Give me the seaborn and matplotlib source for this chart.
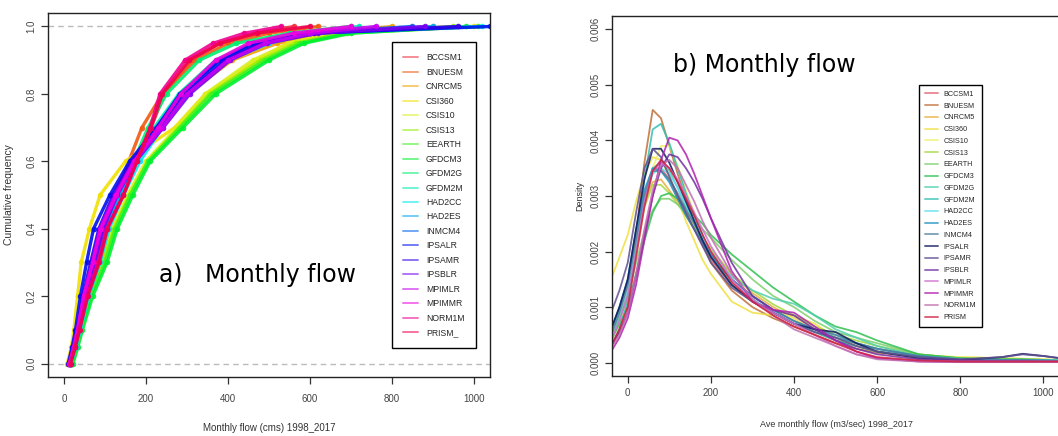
import numpy as np
import pandas as pd
import matplotlib
matplotlib.use("Agg")
import matplotlib.pyplot as plt
from matplotlib.lines import Line2D
import seaborn as sns

# ---------------- data ----------------
models = ["BCCSM1", "BNUESM", "CNRCM5", "CSI360", "CSIS10", "CSIS13", "EEARTH",
          "GFDCM3", "GFDM2G", "GFDM2M", "HAD2CC", "HAD2ES", "INMCM4", "IPSALR",
          "IPSAMR", "IPSBLR", "MPIMLR", "MPIMMR", "NORM1M", "PRISM_"]
legend_b = ["BCCSM1", "BNUESM", "CNRCM5", "CSI360", "CSIS10", "CSIS13", "EEARTH",
            "GFDCM3", "GFDM2G", "GFDM2M", "HAD2CC", "HAD2ES", "INMCM4", "IPSALR",
            "IPSAMR", "IPSBLR", "MPIMLR", "MPIMMR", "NORM1M", "PRISM"]

colors_a = ["#f03040", "#f05a10", "#f0a000", "#f0e000", "#d8f020", "#90f000",
            "#40f020", "#00f030", "#00f070", "#00e8b0", "#00e8f0", "#00a8f0",
            "#0060f0", "#0010f0", "#3000e8", "#7a00f0", "#c800f0", "#f000e0",
            "#f00090", "#f00050"]
colors_b = ["#e06070", "#c0703a", "#e8b040", "#f0e040", "#f0f070", "#a8d840",
            "#80d070", "#30c050", "#50d0b0", "#30c0b0", "#60e0f0", "#2090c0",
            "#5080a0", "#101860", "#605090", "#7030a0", "#d070d0", "#b020b0",
            "#c070b0", "#d02040"]

# cumulative frequency levels and flow quantiles (cms) per model
cum_p = [0, 0.05, 0.1, 0.2, 0.3, 0.4, 0.5, 0.6, 0.7, 0.8, 0.9, 0.95, 0.98, 1.0]
flow_q = {
    "BCCSM1": [15, 27, 37, 55, 80, 100, 135, 172, 212, 245, 310, 380, 470, 560],
    "BNUESM": [18, 28, 38, 55, 78, 100, 128, 158, 190, 240, 320, 400, 500, 620],
    "CNRCM5": [15, 26, 36, 54, 78, 100, 132, 170, 225, 300, 410, 520, 640, 800],
    "CSI360": [8, 18, 24, 33, 42, 62, 88, 150, 270, 345, 470, 545, 640, 1000],
    "CSIS10": [14, 26, 36, 58, 90, 118, 155, 200, 275, 345, 460, 550, 660, 900],
    "CSIS13": [18, 30, 40, 62, 95, 122, 160, 205, 280, 355, 480, 565, 680, 950],
    "EEARTH": [20, 32, 42, 65, 100, 125, 162, 205, 283, 360, 490, 575, 690, 1010],
    "GFDCM3": [22, 34, 45, 70, 105, 130, 168, 210, 290, 370, 500, 585, 700, 980],
    "GFDM2G": [16, 28, 38, 56, 82, 105, 135, 170, 205, 250, 330, 420, 550, 700],
    "GFDM2M": [16, 28, 38, 57, 82, 105, 138, 175, 220, 280, 370, 460, 570, 720],
    "HAD2CC": [17, 29, 40, 60, 88, 110, 145, 185, 240, 300, 400, 500, 600, 1020],
    "HAD2ES": [16, 27, 37, 55, 80, 102, 135, 172, 228, 290, 390, 480, 600, 900],
    "INMCM4": [15, 26, 35, 52, 76, 98, 128, 168, 225, 290, 385, 470, 590, 850],
    "IPSALR": [10, 20, 28, 40, 55, 72, 112, 160, 226, 283, 380, 461, 600, 1040],
    "IPSAMR": [12, 23, 32, 46, 65, 85, 120, 165, 232, 295, 395, 480, 610, 960],
    "IPSBLR": [14, 25, 35, 52, 75, 95, 130, 175, 242, 307, 405, 495, 620, 880],
    "MPIMLR": [13, 24, 33, 48, 70, 88, 125, 170, 240, 300, 400, 490, 600, 760],
    "MPIMMR": [13, 24, 33, 48, 70, 90, 128, 172, 230, 285, 370, 450, 560, 700],
    "NORM1M": [15, 27, 37, 56, 83, 104, 145, 177, 210, 234, 295, 363, 440, 530],
    "PRISM_": [16, 28, 38, 58, 86, 106, 145, 178, 212, 240, 305, 380, 470, 600],
}

# density curves (values in 1e-3 per m3/sec) sampled at these flows
dens_x = [-40, -20, 0, 20, 40, 60, 80, 100, 120, 140, 160, 180, 200, 250, 300,
          350, 400, 450, 500, 550, 600, 700, 800, 900, 950, 1000, 1040]
dens_milli = {
    "BCCSM1": [0.4, 0.8, 1.3, 2.2, 3.0, 3.5, 3.5, 3.3, 3.0, 2.7, 2.4, 2.1, 1.85, 1.4, 1.1, 0.9, 0.7, 0.55, 0.4, 0.3, 0.2, 0.1, 0.06, 0.04, 0.03, 0.03, 0.03],
    "BNUESM": [0.3, 0.6, 1.2, 2.3, 3.6, 4.55, 4.4, 3.9, 3.4, 2.95, 2.55, 2.15, 1.8, 1.3, 1.0, 0.8, 0.65, 0.5, 0.35, 0.25, 0.18, 0.1, 0.05, 0.03, 0.03, 0.02, 0.02],
    "CNRCM5": [0.5, 0.9, 1.4, 2.2, 2.9, 3.25, 3.3, 3.1, 2.9, 2.65, 2.4, 2.2, 2.0, 1.6, 1.25, 1.0, 0.8, 0.6, 0.45, 0.35, 0.25, 0.12, 0.08, 0.06, 0.05, 0.04, 0.04],
    "CSI360": [1.5, 1.9, 2.3, 2.9, 3.4, 3.7, 3.65, 3.35, 2.95, 2.55, 2.2, 1.85, 1.6, 1.1, 0.9, 0.85, 0.85, 0.7, 0.45, 0.3, 0.2, 0.12, 0.1, 0.08, 0.07, 0.06, 0.05],
    "CSIS10": [0.4, 0.7, 1.1, 1.9, 2.8, 3.5, 3.9, 3.9, 3.55, 3.1, 2.7, 2.3, 1.95, 1.4, 1.1, 0.95, 0.8, 0.6, 0.45, 0.35, 0.25, 0.14, 0.1, 0.08, 0.07, 0.06, 0.05],
    "CSIS13": [0.6, 1.0, 1.4, 2.2, 2.8, 3.2, 3.2, 3.05, 2.85, 2.65, 2.45, 2.25, 2.05, 1.6, 1.3, 1.05, 0.85, 0.65, 0.5, 0.4, 0.3, 0.15, 0.08, 0.06, 0.06, 0.05, 0.04],
    "EEARTH": [0.5, 0.8, 1.2, 1.8, 2.35, 2.75, 2.95, 2.95, 2.85, 2.7, 2.55, 2.4, 2.25, 1.85, 1.5, 1.2, 1.0, 0.75, 0.55, 0.45, 0.35, 0.15, 0.08, 0.06, 0.06, 0.05, 0.04],
    "GFDCM3": [0.4, 0.7, 1.0, 1.6, 2.2, 2.7, 3.0, 3.05, 2.95, 2.8, 2.65, 2.5, 2.3, 1.95, 1.65, 1.35, 1.1, 0.85, 0.65, 0.55, 0.4, 0.15, 0.08, 0.06, 0.06, 0.05, 0.04],
    "GFDM2G": [0.4, 0.8, 1.2, 2.0, 2.9, 3.5, 3.6, 3.45, 3.15, 2.8, 2.5, 2.2, 1.95, 1.55, 1.3, 1.15, 1.06, 0.85, 0.6, 0.45, 0.3, 0.12, 0.07, 0.05, 0.05, 0.04, 0.04],
    "GFDM2M": [0.3, 0.6, 1.1, 2.1, 3.3, 4.2, 4.3, 3.95, 3.5, 3.05, 2.65, 2.3, 1.95, 1.4, 1.1, 0.9, 0.7, 0.55, 0.4, 0.3, 0.2, 0.1, 0.05, 0.03, 0.03, 0.02, 0.02],
    "HAD2CC": [0.5, 0.9, 1.3, 2.1, 2.9, 3.4, 3.5, 3.4, 3.15, 2.85, 2.55, 2.25, 2.0, 1.5, 1.15, 0.9, 0.7, 0.6, 0.5, 0.35, 0.25, 0.1, 0.06, 0.05, 0.05, 0.04, 0.04],
    "HAD2ES": [0.6, 1.0, 1.5, 2.4, 3.1, 3.5, 3.45, 3.25, 2.95, 2.65, 2.4, 2.15, 1.9, 1.5, 1.2, 0.95, 0.75, 0.6, 0.45, 0.35, 0.25, 0.12, 0.06, 0.05, 0.05, 0.04, 0.03],
    "INMCM4": [0.5, 0.9, 1.4, 2.2, 3.0, 3.45, 3.45, 3.3, 3.05, 2.75, 2.5, 2.2, 1.95, 1.5, 1.2, 0.95, 0.75, 0.6, 0.5, 0.35, 0.25, 0.12, 0.06, 0.05, 0.05, 0.04, 0.03],
    "IPSALR": [0.6, 1.0, 1.5, 2.4, 3.3, 3.85, 3.85, 3.6, 3.25, 2.9, 2.55, 2.2, 1.9, 1.4, 1.1, 0.9, 0.7, 0.6, 0.55, 0.35, 0.2, 0.08, 0.05, 0.1, 0.16, 0.12, 0.08],
    "IPSAMR": [0.9, 1.3, 1.8, 2.7, 3.5, 3.85, 3.7, 3.35, 3.0, 2.7, 2.4, 2.1, 1.8, 1.35, 1.1, 0.9, 0.7, 0.55, 0.45, 0.3, 0.2, 0.1, 0.06, 0.1, 0.15, 0.12, 0.08],
    "IPSBLR": [0.3, 0.55, 0.9, 1.55, 2.3, 3.0, 3.5, 3.75, 3.7, 3.5, 3.25, 2.95, 2.6, 1.8, 1.2, 0.95, 0.85, 0.6, 0.4, 0.25, 0.15, 0.06, 0.04, 0.03, 0.03, 0.02, 0.02],
    "MPIMLR": [0.4, 0.75, 1.2, 2.0, 2.9, 3.45, 3.6, 3.5, 3.3, 3.0, 2.7, 2.4, 2.1, 1.5, 1.1, 0.9, 0.7, 0.5, 0.3, 0.15, 0.08, 0.03, 0.02, 0.02, 0.02, 0.02, 0.02],
    "MPIMMR": [0.2, 0.45, 0.8, 1.4, 2.2, 3.0, 3.65, 4.05, 4.0, 3.75, 3.4, 3.0, 2.6, 1.65, 1.1, 0.95, 0.9, 0.65, 0.4, 0.2, 0.08, 0.02, 0.01, 0.01, 0.01, 0.01, 0.01],
    "NORM1M": [0.25, 0.5, 0.9, 1.6, 2.4, 3.1, 3.55, 3.65, 3.5, 3.2, 2.9, 2.55, 2.25, 1.6, 1.15, 0.85, 0.6, 0.45, 0.3, 0.15, 0.06, 0.02, 0.01, 0.01, 0.01, 0.01, 0.01],
    "PRISM_": [0.3, 0.6, 1.0, 1.9, 2.8, 3.45, 3.65, 3.5, 3.25, 2.95, 2.65, 2.3, 2.0, 1.45, 1.1, 0.85, 0.65, 0.5, 0.35, 0.2, 0.1, 0.04, 0.02, 0.02, 0.02, 0.02, 0.02],
}

xticks_a = [0, 200, 400, 600, 800, 1000]
yticks_a = [0.0, 0.2, 0.4, 0.6, 0.8, 1.0]
xticks_b = [0, 200, 400, 600, 800, 1000]
xticklabels_b = ["0", "200", "400", "600", "800", "1000"]
yticks_b = [0.000, 0.001, 0.002, 0.003, 0.004, 0.005, 0.006]

# ---------------- tables ----------------
ecdf_df = pd.DataFrame([
    {"model": m, "flow": q, "cum": p}
    for m in models for q, p in zip(flow_q[m], cum_p)
])
dens_df = pd.DataFrame([
    {"model": m, "flow": x, "density": d * 1e-3}
    for m in models for x, d in zip(dens_x, dens_milli[m])
])
pal_a = dict(zip(models, colors_a))
pal_b = dict(zip(models, colors_b))

# ---------------- figure ----------------
sns.set_theme(style="white")
plt.rcParams["font.family"] = ["Liberation Sans Narrow", "Liberation Sans", "DejaVu Sans"]
plt.rcParams["axes.edgecolor"] = "#222222"
plt.rcParams["axes.linewidth"] = 1.0

fig = plt.figure(figsize=(10.58, 4.36), dpi=100)
axA = fig.add_axes([0.0454, 0.1353, 0.4177, 0.8349])
axB = fig.add_axes([0.5784, 0.1376, 0.4236, 0.8257])

tick_kw = dict(direction="out", length=5, width=0.9, color="#333333",
               labelsize=7, labelcolor="#444444", bottom=True, left=True)

# ----- panel a -----
axA.axhline(0, color="#bbbbbb", lw=1, ls=(0, (4, 3)), zorder=0)
axA.axhline(1, color="#bbbbbb", lw=1, ls=(0, (4, 3)), zorder=0)
sns.lineplot(data=ecdf_df, x="flow", y="cum", hue="model", palette=pal_a,
             hue_order=models, estimator=None, sort=True, ax=axA,
             linewidth=2.4, marker="o", markersize=4, markeredgewidth=0,
             alpha=0.9, legend=False)
axA.set_xlim(-39, 1039)
axA.set_ylim(-0.04, 1.04)
axA.set_xticks(xticks_a)
axA.set_yticks(yticks_a)
axA.set_yticklabels([f"{v:.1f}" for v in yticks_a], rotation=90, va="center")
axA.tick_params(**tick_kw)
axA.tick_params(axis="x", pad=7)
axA.set_xlabel("Monthly flow (cms) 1998_2017", fontsize=7, color="#333333", labelpad=14)
axA.set_ylabel("Cumulative frequency", fontsize=7.5, color="#333333", labelpad=9)
axA.text(0.475, 0.28, "a)   Monthly flow", transform=axA.transAxes,
         fontsize=17, family="DejaVu Sans", color="black", va="center", ha="center")
hA = [Line2D([], [], color=c, lw=1.4, alpha=0.55) for c in colors_a]
legA = axA.legend(hA, models, loc="upper left", bbox_to_anchor=(0.778, 0.92),
                  fontsize=6.2, frameon=True, fancybox=False, edgecolor="black",
                  framealpha=1, handlelength=1.7, labelspacing=0.635,
                  borderpad=1.3, handletextpad=0.95, borderaxespad=0)
legA.get_frame().set_linewidth(1.0)

# ----- panel b -----
sns.lineplot(data=dens_df, x="flow", y="density", hue="model", palette=pal_b,
             hue_order=models, estimator=None, sort=True, ax=axB,
             linewidth=1.3, alpha=0.85, legend=False)
axB.set_xlim(-38, 1040)
axB.set_ylim(-0.00024, 0.00624)
axB.set_xticks(xticks_b)
axB.set_xticklabels(xticklabels_b)
axB.set_yticks(yticks_b)
axB.set_yticklabels([f"{v:.3f}" for v in yticks_b], rotation=90, va="center")
axB.tick_params(**tick_kw)
axB.set_xlabel("Ave monthly flow (m3/sec) 1998_2017", fontsize=6.5, color="#333333", labelpad=16)
axB.set_ylabel("Density", fontsize=6.5, color="#333333", labelpad=4)
axB.text(0.136, 0.864, "b) Monthly flow", transform=axB.transAxes,
         fontsize=17, family="DejaVu Sans", color="black", va="center", ha="left")
hB = [Line2D([], [], color=c, lw=1.4, alpha=0.7) for c in colors_b]
legB = axB.legend(hB, legend_b, loc="upper left", bbox_to_anchor=(0.685, 0.808),
                  fontsize=5.2, frameon=True, fancybox=False, edgecolor="black",
                  framealpha=1, handlelength=1.9, labelspacing=0.65,
                  borderpad=0.8, handletextpad=0.7, borderaxespad=0)
legB.get_frame().set_linewidth(1.0)

fig.savefig("out.png", dpi=100)
